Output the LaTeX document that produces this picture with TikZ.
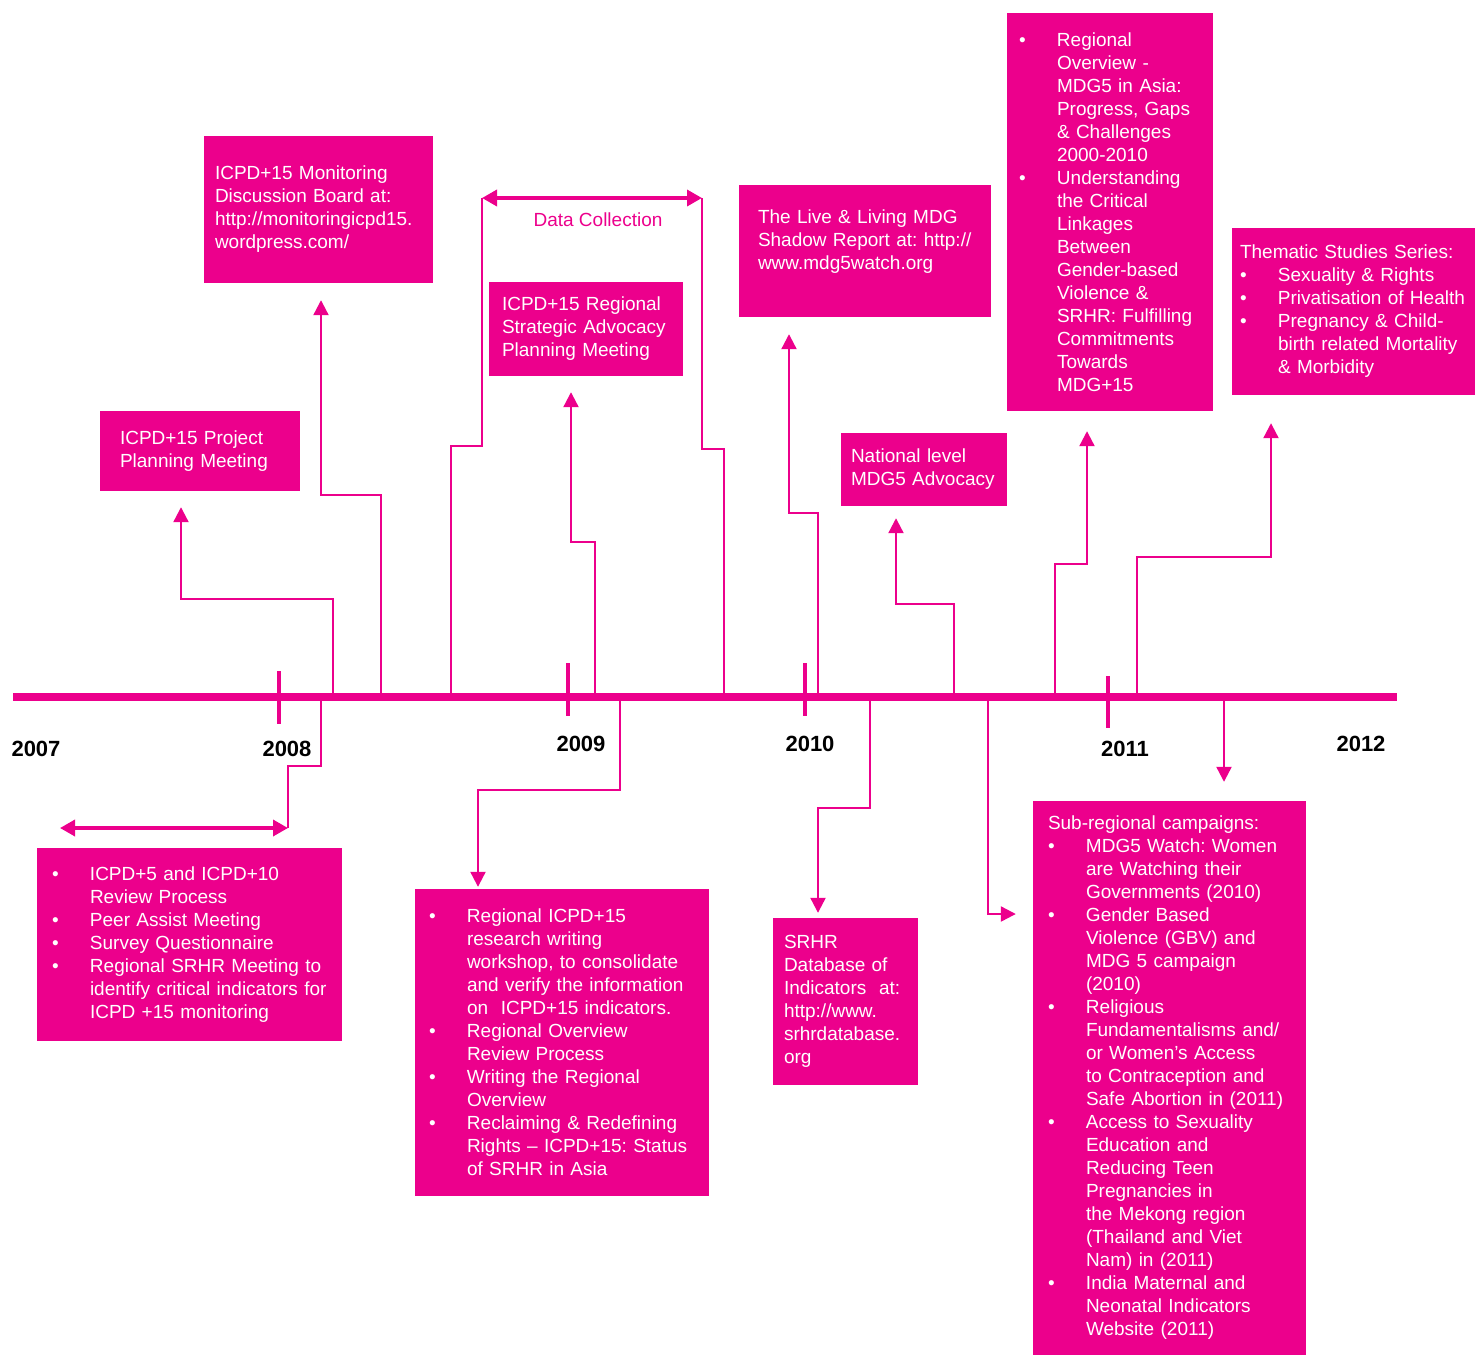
\documentclass[tikz,border=0pt]{standalone}
\usepackage{fontspec}
\setmainfont{Liberation Sans}
\usetikzlibrary{arrows.meta}
\definecolor{mag}{HTML}{EC008C}
\newcommand{\bl}{\makebox[38pt][l]{\textbullet}}
\newcommand{\il}{\hspace*{38pt}}
\frenchspacing
\tikzset{
  box/.style={fill=mag, text=white, align=left, inner ysep=0pt,
    font=\fontsize{19}{23}\selectfont},
  link/.style={mag, line width=2.2pt, -{Triangle[length=15pt,width=15pt]}},
  plain/.style={mag, line width=2.2pt},
  span/.style={mag, line width=3.5pt,
    {Triangle[length=15pt,width=16pt]}-{Triangle[length=15pt,width=16pt]}},
  year/.style={font=\fontsize{22}{26}\selectfont\bfseries},
}
\begin{document}
\begin{tikzpicture}[x=1pt,y=-1pt]
\useasboundingbox (0,0) rectangle (1475,1355);
% boxes above the time line
\node[box, minimum width=200, minimum height=80, inner xsep=20, text width=160]
  (plan) at (200,451) {ICPD+15 Project\\Planning Meeting};
\node[box, minimum width=229, minimum height=147, inner xsep=11, text width=207]
  (board) at (318.5,209.5) {ICPD+15 Monitoring\\Discussion Board at:\\http://monitoringicpd15.\\wordpress.com/};
\node[box, minimum width=194, minimum height=94, inner xsep=13, text width=168]
  (strat) at (586,329) {ICPD+15 Regional\\Strategic Advocacy\\Planning Meeting};
\node[box, minimum width=252, minimum height=132, inner xsep=19, text width=214]
  (shadow) at (865,251) {The Live \& Living MDG\\Shadow Report at: http://\\www.mdg5watch.org\\\mbox{}};
\node[box, minimum width=166, minimum height=73, inner xsep=10, text width=146]
  (natl) at (924,469.5) {National level\\MDG5 Advocacy};
\node[box, minimum width=206, minimum height=398, inner xsep=12, text width=182]
  (overview) at (1110,212) {\bl Regional\\\il Overview -\\\il MDG5 in Asia:\\\il Progress, Gaps\\\il \& Challenges\\\il 2000-2010\\
  \bl Understanding\\\il the Critical\\\il Linkages\\\il Between\\\il Gender-based\\\il Violence \&\\\il SRHR: Fulfilling\\\il Commitments\\\il Towards\\\il MDG+15};
\node[box, minimum width=243, minimum height=167, inner xsep=8, text width=227]
  (thematic) at (1353.5,311.5) {Thematic Studies Series:\\\bl Sexuality \& Rights\\\bl Privatisation of Health\\
  \bl Pregnancy \& Child-\\\il birth related Mortality\\\il \& Morbidity};
% boxes below the time line
\node[box, minimum width=305, minimum height=193, inner xsep=15, text width=275]
  (review) at (189.5,944.5) {\bl ICPD+5 and ICPD+10\\\il Review Process\\\bl Peer Assist Meeting\\\bl Survey Questionnaire\\
  \bl Regional SRHR Meeting to\\\il identify critical indicators for\\\il ICPD +15 monitoring};
\node[box, minimum width=294, minimum height=307, inner xsep=14, text width=266]
  (workshop) at (562,1042.5) {\bl Regional ICPD+15\\\il research writing\\\il workshop, to consolidate\\\il and verify the information\\\il on\ \ ICPD+15 indicators.\\
  \bl Regional Overview\\\il Review Process\\\bl Writing the Regional\\\il Overview\\
  \bl Reclaiming \& Redefining\\\il Rights -- ICPD+15: Status\\\il of SRHR in Asia};
\node[box, minimum width=145, minimum height=167, inner xsep=11, text width=123]
  (srhr) at (845.5,1001.5) {SRHR\\Database of\\Indicators\ \ at:\\http://www.\\srhrdatabase.\\org};
\node[box, minimum width=273, minimum height=554, inner xsep=15, text width=243]
  (campaign) at (1169.5,1078) {Sub-regional campaigns:\\
  \bl MDG5 Watch: Women\\\il are Watching their\\\il Governments (2010)\\
  \bl Gender Based\\\il Violence (GBV) and\\\il MDG 5 campaign\\\il (2010)\\
  \bl Religious\\\il Fundamentalisms and/\\\il or Women’s Access\\\il to Contraception and\\\il Safe Abortion in (2011)\\
  \bl Access to Sexuality\\\il Education and\\\il Reducing Teen\\\il Pregnancies in\\\il the Mekong region\\\il (Thailand and Viet\\\il Nam) in (2011)\\
  \bl India Maternal and\\\il Neonatal Indicators\\\il Website (2011)};
% years
\node[year] (y2007) at (36,749) {2007};
\node[year] (y2008) at (287,749) {2008};
\node[year] (y2009) at (581,744) {2009};
\node[year] (y2010) at (810,744) {2010};
\node[year] (y2011) at (1125,749) {2011};
\node[year] (y2012) at (1361,744) {2012};
% connectors up
\foreach \sx/\my/\ex/\gap/\tgt in {333/599/181/16/plan, 381/495/321/17/board,
  595/542/571/16/strat, 818/513/789/17/shadow, 954/604/896/12/natl,
  1055/564/1087/20/overview, 1137/557/1271/28/thematic} {
  \coordinate (bend) at (\ex,\my);
  \draw[link, shorten >=\gap pt] (\sx,697) |- (bend) -- (bend |- \tgt.south);
}
% data collection
\coordinate (dcL) at (482,198);
\coordinate (dcR) at (702,198);
\draw[plain] (451,697) |- (482,446) -- (dcL);
\draw[plain] (724,697) |- (702,449) -- (dcR);
\draw[span] (dcL) -- (dcR);
\node[mag, font=\fontsize{19}{23}\selectfont] (dc) at (598,220) {Data Collection};
% connectors down
\coordinate (rv1) at (60,828);
\coordinate (rv2) at (288,828);
\draw[plain] (321,697) |- (288,766) -- (rv2);
\draw[span] (rv1) -- (rv2);
\coordinate (wb) at (478,790);
\draw[link, shorten >=2pt] (620,697) |- (wb) -- (wb |- workshop.north);
\coordinate (sb) at (818,808);
\draw[link, shorten >=5pt] (870,697) |- (sb) -- (sb |- srhr.north);
\coordinate (cb) at (988,914);
\draw[link, shorten >=17pt] (988,697) -- (cb) -- (cb -| campaign.west);
\coordinate (ct) at (1224,697);
\draw[link, shorten >=19pt] (ct) -- (ct |- campaign.north);
% time line
\draw[mag, line width=8pt] (13,697) -- (1397,697);
\foreach \x/\a/\b in {279/671/724, 568/663/716, 805/663/716, 1108/676/728} {
  \draw[mag, line width=4pt] (\x,\a) -- (\x,\b);
}
\end{tikzpicture}
\end{document}
